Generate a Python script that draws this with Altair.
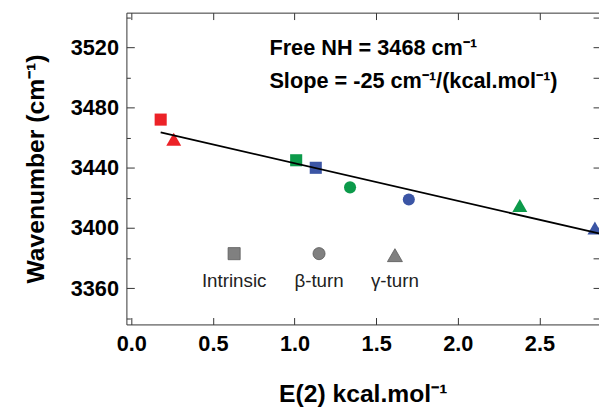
import altair as alt
import pandas as pd

# ---- data ----
pt_x = [0.18, 0.26, 1.01, 1.13, 1.34, 1.70, 2.38, 2.84]
pt_y = [3472, 3459, 3445, 3440, 3427, 3419, 3415, 3400]
pt_group = ["red", "red", "green", "blue", "green", "blue", "green", "blue"]
pt_type = ["Intrinsic", "γ-turn", "Intrinsic", "Intrinsic", "β-turn", "β-turn", "γ-turn", "γ-turn"]

fit_x = [0.18, 2.865]
fit_y = [3463.5, 3396.4]

legend_labels = ["Intrinsic", "β-turn", "γ-turn"]
legend_x = [0.63, 1.15, 1.615]
legend_marker_y = [3383, 3383, 3382]
legend_text_y = [3365, 3365, 3365]

note_lines = ["Free NH = 3468 cm⁻¹", "Slope = -25 cm⁻¹/(kcal.mol⁻¹)"]
note_x = [0.846, 0.846]
note_y = [3515, 3493]

x_major = [0.0, 0.5, 1.0, 1.5, 2.0, 2.5]
y_major = [3360, 3400, 3440, 3480, 3520]
y_all = [3340, 3360, 3380, 3400, 3420, 3440, 3460, 3480, 3500, 3520, 3540]
y_minor = [3340, 3380, 3420, 3460, 3500, 3540]

group_names = ["red", "green", "blue"]
group_colors = ["#EC2227", "#0C9A4A", "#3B55A5"]
shape_names = ["square", "circle", "triangle-up"]

# ---- tables ----
df_pts = pd.DataFrame({"x": pt_x, "y": pt_y, "group": pt_group, "type": pt_type})
df_fit = pd.DataFrame({"x": fit_x, "y": fit_y})
df_leg = pd.DataFrame({"x": legend_x, "y": legend_marker_y, "ty": legend_text_y, "type": legend_labels})
df_note = pd.DataFrame({"x": note_x, "y": note_y, "t": note_lines})

W, H = 479, 316
FONT = "Liberation Sans"
xs = alt.Scale(domain=[-0.03, 2.865], nice=False, zero=False)
ys = alt.Scale(domain=[3336, 3543], nice=False, zero=False)
shape_scale = alt.Scale(domain=legend_labels, range=shape_names)
color_scale = alt.Scale(domain=group_names, range=group_colors)

tick_only = dict(labels=False, domain=False, ticks=True, grid=False,
                 tickColor="#333333", tickWidth=1)
not_tri = alt.datum.type != "γ-turn"
is_tri = alt.datum.type == "γ-turn"

pts = alt.Chart(df_pts).transform_filter(not_tri).mark_point(
    filled=True, opacity=1, size=150).encode(
    x=alt.X("x:Q", scale=xs, axis=alt.Axis(
        orient="bottom", values=x_major, format=".1f", ticks=False, tickSize=0,
        labelPadding=9, labelFontSize=22, labelFontWeight="bold", labelFont=FONT,
        labelColor="black", domainColor="#333333", grid=False,
        title="E(2) kcal.mol⁻¹", titleFont=FONT, titleFontSize=25,
        titleFontWeight="bold", titleColor="black", titlePadding=28)),
    y=alt.Y("y:Q", scale=ys, axis=alt.Axis(
        orient="left", values=y_major, format="d", ticks=False, tickSize=0,
        labelPadding=8, labelFontSize=22, labelFontWeight="bold", labelFont=FONT,
        labelColor="black", domainColor="#333333", grid=False,
        title="Wavenumber (cm⁻¹)", titleFont=FONT, titleFontSize=25,
        titleFontWeight="bold", titleColor="black", titlePadding=22)),
    color=alt.Color("group:N", scale=color_scale, legend=None),
    shape=alt.Shape("type:N", scale=shape_scale, legend=None),
)

tris = alt.Chart(df_pts).transform_filter(is_tri).mark_point(
    filled=True, opacity=1, size=230, shape="triangle-up").encode(
    x=alt.X("x:Q", scale=xs, axis=None),
    y=alt.Y("y:Q", scale=ys, axis=None),
    color=alt.Color("group:N", scale=color_scale, legend=None),
)

line = alt.Chart(df_fit).mark_line(color="black", strokeWidth=1.8).encode(
    x=alt.X("x:Q", scale=xs, title=None,
            axis=alt.Axis(orient="top", offset=-H, values=x_major, tickSize=7, **tick_only)),
    y=alt.Y("y:Q", scale=ys, title=None,
            axis=alt.Axis(orient="right", offset=-W, values=y_major, tickSize=8, **tick_only)),
)

leg_marks = alt.Chart(df_leg).transform_filter(not_tri).mark_point(
    filled=True, opacity=1, size=150,
    color="#808080", stroke="#5a5a5a", strokeWidth=0.8).encode(
    x=alt.X("x:Q", scale=xs, title=None,
            axis=alt.Axis(orient="bottom", offset=-H, values=x_major, tickSize=7,
                          labels=False, domain=True, domainColor="#333333", ticks=True,
                          grid=False, tickColor="#333333", tickWidth=1)),
    y=alt.Y("y:Q", scale=ys, title=None,
            axis=alt.Axis(orient="left", offset=-W, values=y_all, tickSize=6, **tick_only)),
    shape=alt.Shape("type:N", scale=shape_scale, legend=None),
)

leg_tri = alt.Chart(df_leg).transform_filter(is_tri).mark_point(
    filled=True, opacity=1, size=230, shape="triangle-up",
    color="#808080", stroke="#5a5a5a", strokeWidth=0.8).encode(
    x=alt.X("x:Q", scale=xs, axis=None),
    y=alt.Y("y:Q", scale=ys, axis=None),
)

leg_text = alt.Chart(df_leg).mark_text(font=FONT, fontSize=19, color="#222222",
                                       align="center", baseline="middle").encode(
    x=alt.X("x:Q", scale=xs, axis=None),
    y=alt.Y("ty:Q", scale=ys, title=None,
            axis=alt.Axis(orient="right", offset=-W, values=y_minor, tickSize=4, **tick_only)),
    text="type:N",
)

notes = alt.Chart(df_note).mark_text(font=FONT, fontSize=22, fontWeight="bold", color="black",
                                     align="left", baseline="alphabetic").encode(
    x=alt.X("x:Q", scale=xs, axis=None),
    y=alt.Y("y:Q", scale=ys, axis=None),
    text="t:N",
)

chart = alt.layer(pts, tris, line, leg_marks, leg_tri, leg_text, notes).resolve_axis(
    x="independent", y="independent"
).properties(
    width=W, height=H, autosize="none",
    padding={"left": 120, "top": 2, "right": 0, "bottom": 84},
).configure_view(strokeWidth=0)

chart.save("out.html", embed_options={"renderer": "svg", "actions": False})
